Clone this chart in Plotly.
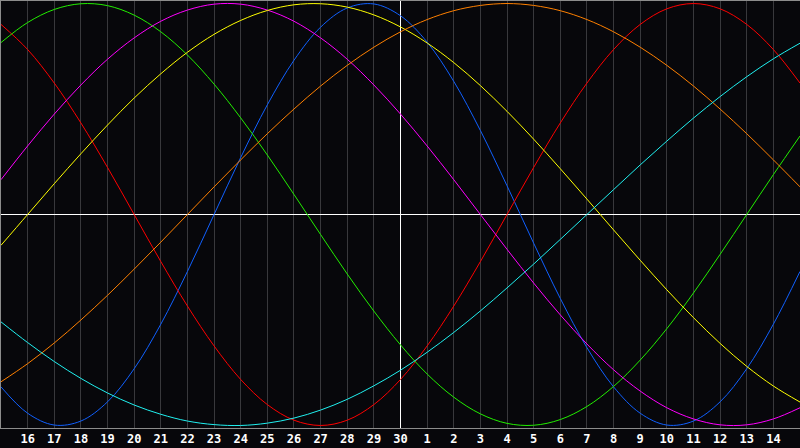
import plotly.graph_objects as go

# day offsets from the selected date (30) and their labels
days = list(range(-15, 16))
day_labels = ["16", "17", "18", "19", "20", "21", "22", "23", "24", "25", "26", "27", "28", "29", "30",
              "1", "2", "3", "4", "5", "6", "7", "8", "9", "10", "11", "12", "13", "14"]

# cycle values (x1000), one per day
physical_23 = [-817, -942, -998, -979, -888, -731, -520, -270, 0, 270, 520, 731, 888, 979, 998, 942,
               817, 631, 398, 136, -136, -398, -631, -817, -942, -998, -979, -888, -731, -520, -270]
emotional_28 = [901, 782, 623, 434, 223, 0, -223, -434, -623, -782, -901, -975, -1000, -975, -901, -782,
                -623, -434, -223, 0, 223, 434, 623, 782, 901, 975, 1000, 975, 901, 782, 623]
intellectual_33 = [815, 910, 972, 999, 990, 945, 866, 756, 618, 458, 282, 95, -95, -282, -458, -618,
                   -756, -866, -945, -990, -999, -972, -910, -815, -690, -541, -372, -189, 0, 189, 372]
intuitive_38 = [165, 325, 476, 614, 736, 837, 916, 969, 997, 997, 969, 916, 837, 736, 614, 476,
                325, 165, 0, -165, -325, -476, -614, -736, -837, -916, -969, -997, -997, -969, -916]
aesthetic_43 = [-146, 0, 146, 288, 424, 552, 667, 769, 854, 920, 967, 994, 999, 983, 946, 889,
                813, 720, 611, 489, 357, 217, 73, -73, -217, -357, -489, -611, -720, -813, -889]
awareness_48 = [-793, -707, -609, -500, -383, -259, -131, 0, 131, 259, 383, 500, 609, 707, 793, 866,
                924, 966, 991, 1000, 991, 966, 924, 866, 793, 707, 609, 500, 383, 259, 131]
spiritual_53 = [-509, -607, -697, -777, -846, -903, -947, -979, -996, -1000, -989, -965, -927, -876, -812, -738,
                -653, -559, -457, -348, -235, -118, 0, 118, 235, 348, 457, 559, 653, 738, 812]

series = [physical_23, emotional_28, intellectual_33, intuitive_38, aesthetic_43, awareness_48, spiritual_53]
colors = ["#1060ff", "#ff0000", "#22ee00", "#ff00ff", "#ffff00", "#ff8000", "#20f0f0"]

fig = go.Figure()
for v, c in zip(series, colors):
    fig.add_trace(go.Scatter(x=days, y=[a / 1000 for a in v], mode="lines",
                             line=dict(color=c, width=1, shape="spline"),
                             hoverinfo="skip", showlegend=False))

fig.update_layout(
    width=800, height=448, margin=dict(l=1, r=0, t=1, b=20),
    paper_bgcolor="#07070b", plot_bgcolor="#07070b",
    xaxis=dict(range=[-15, 15], tickvals=list(range(-14, 15)), ticktext=day_labels,
               showgrid=True, gridcolor="#38383c", gridwidth=1,
               zeroline=True, zerolinecolor="#ffffff", zerolinewidth=1,
               showline=True, linecolor="#8c8c8c", linewidth=1, mirror=True,
               ticks="", tickfont=dict(family="DejaVu Sans Mono", size=12, color="#ffffff", weight="bold")),
    yaxis=dict(range=[-1.012, 1.012], showgrid=False, showticklabels=False,
               zeroline=True, zerolinecolor="#ffffff", zerolinewidth=1,
               showline=True, linecolor="#8c8c8c", linewidth=1),
)
fig.write_html("out.html", config={"displayModeBar": False},
               post_script="document.body.style.margin='0';document.body.style.background='#07070b';")
